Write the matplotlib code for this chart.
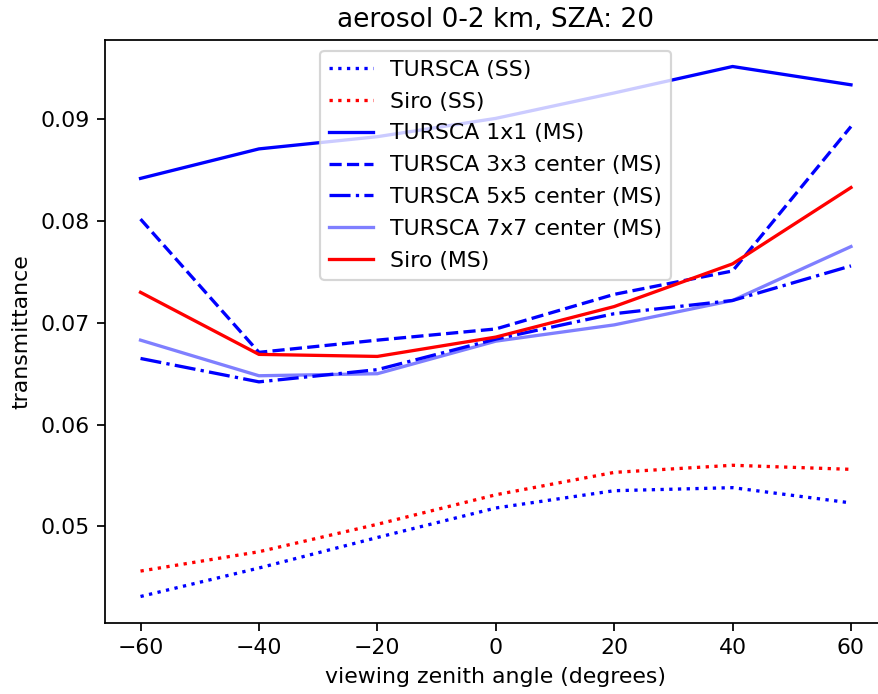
import matplotlib
matplotlib.use("Agg")
import matplotlib.pyplot as plt

vza = [-60, -40, -20, 0, 20, 40, 60]
tursca_ss = [0.0431, 0.0459, 0.0489, 0.0518, 0.0535, 0.0538, 0.0523]
siro_ss = [0.0456, 0.0475, 0.0502, 0.0531, 0.0553, 0.0560, 0.0556]
tursca_1x1 = [0.0842, 0.0871, 0.0883, 0.0901, 0.0926, 0.0952, 0.0934]
tursca_3x3 = [0.0802, 0.0671, 0.0683, 0.0694, 0.0728, 0.0751, 0.0893]
tursca_5x5 = [0.0665, 0.0642, 0.0654, 0.0684, 0.0709, 0.0722, 0.0756]
tursca_7x7 = [0.0683, 0.0648, 0.0650, 0.0682, 0.0698, 0.0722, 0.0775]
siro_ms = [0.0730, 0.0669, 0.0667, 0.0686, 0.0716, 0.0758, 0.0833]

DPI = 158
fig = plt.figure(figsize=(878/DPI, 694/DPI), dpi=DPI)
ax = fig.add_axes([105/878, 71/694, (886.5-105)/878, 583/694])

ax.plot(vza, tursca_ss, 'b:', label='TURSCA (SS)')
ax.plot(vza, siro_ss, 'r:', label='Siro (SS)')
ax.plot(vza, tursca_1x1, 'b-', label='TURSCA 1x1 (MS)')
ax.plot(vza, tursca_3x3, 'b--', label='TURSCA 3x3 center (MS)')
ax.plot(vza, tursca_5x5, 'b-.', label='TURSCA 5x5 center (MS)')
ax.plot(vza, tursca_7x7, 'b-', alpha=0.5, label='TURSCA 7x7 center (MS)')
ax.plot(vza, siro_ms, 'r-', label='Siro (MS)')

ax.set_xticks(vza)
ax.set_xlabel('viewing zenith angle (degrees)')
ax.set_ylabel('transmittance')
ax.set_title('aerosol 0-2 km, SZA: 20')
ax.legend(loc='upper center', labelspacing=0.54)

fig.savefig('out.png', dpi=DPI)
